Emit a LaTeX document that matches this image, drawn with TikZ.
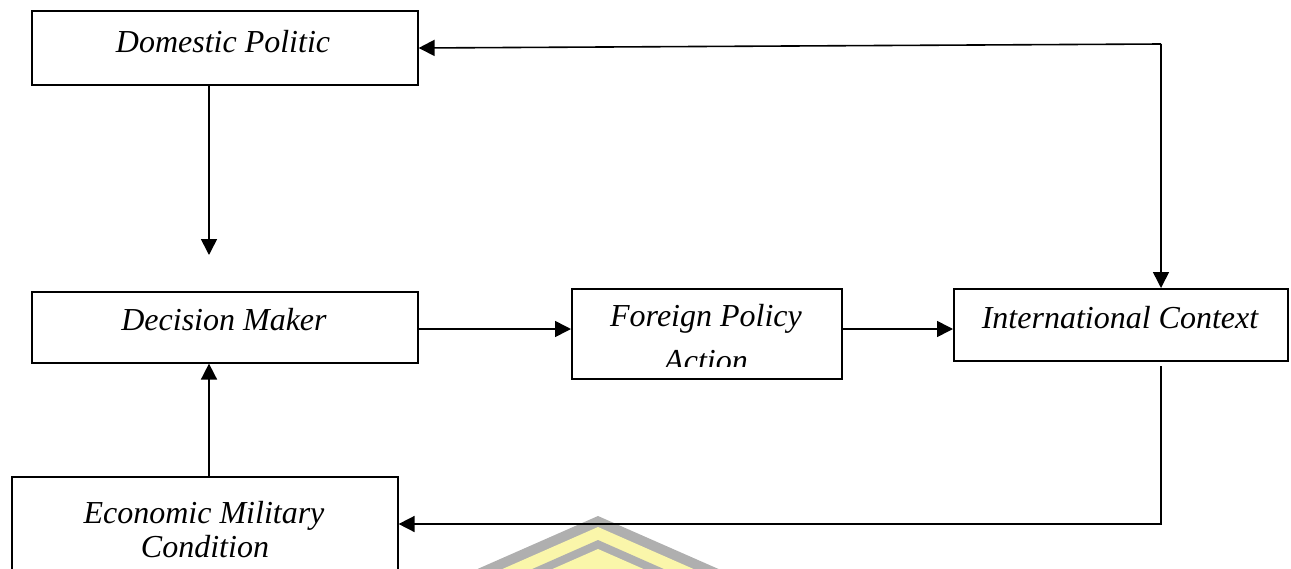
\documentclass[tikz,border=0pt]{standalone}
\usepackage{fontspec}
\setmainfont{Liberation Serif}
\usetikzlibrary{arrows.meta}
\definecolor{wmgray}{RGB}{175,175,175}
\definecolor{wmyellow}{RGB}{250,246,170}
\begin{document}
\begin{tikzpicture}[x=1pt,y=-1pt,
  box/.style={draw=black,line width=1.6pt,inner sep=0pt,anchor=north west},
  lbl/.style={font=\fontsize{32}{38}\selectfont\itshape,inner sep=0pt,anchor=base},
  conn/.style={line width=1.6pt,-{Triangle[length=16pt,width=16pt]}}]
\useasboundingbox (0,0) rectangle (1291,568);
% faint watermark fragment
\begin{scope}
\clip (0,0) rectangle (1291,568);
\fill[wmgray] (598,516) -- (789,600) -- (407,600) -- cycle;
\fill[wmyellow] (598,527) -- (764,600) -- (432,600) -- cycle;
\fill[wmgray] (598,540) -- (734,600) -- (462,600) -- cycle;
\fill[wmyellow] (598,549) -- (714,600) -- (482,600) -- cycle;
\end{scope}
% boxes
\node[box, minimum width=386pt, minimum height=74pt] (dom) at (31,10) {};
\node[box, minimum width=386pt, minimum height=71pt] (dec) at (31,291) {};
\node[box, minimum width=270pt, minimum height=90pt] (for) at (571,288) {};
\node[box, minimum width=334pt, minimum height=72pt] (intl) at (953,288) {};
\node[box, minimum width=386pt, minimum height=120pt] (eco) at (11,476) {};
% texts
\node[lbl] (tdom) at (223,52) {Domestic Politic};
\node[lbl] (tdec) at (224,330) {Decision Maker};
\node[lbl] (tfor1) at (706,326) {Foreign Policy};
\begin{scope}
\clip (572,289) rectangle (840,366);
\node[lbl] (tfor2) at (706,371) {Action};
\end{scope}
\node[lbl] (tint) at (1120,328) {International Context};
\node[lbl] (teco1) at (204,523) {Economic Military};
\node[lbl] (teco2) at (205,557) {Condition};
% connectors
\coordinate (c1) at (209,255);
\coordinate (r1) at (0,329);
\coordinate (tl) at (417,48);
\coordinate (tc) at (1161,44);
\coordinate (bs) at (1161,366);
\coordinate (bc) at (1161,524);
\draw[conn] (dom.south -| c1) -- (c1);
\draw[conn] (eco.north -| c1) -- (dec.south -| c1);
\draw[conn] (dec.east |- r1) -- (for.west |- r1);
\draw[conn] (for.east |- r1) -- (intl.west |- r1);
\draw[conn] (tc) -- (dom.east |- tl);
\draw[conn] (tc) -- (intl.north -| tc);
\draw[conn] (bs) -- (bc) -- (eco.east |- bc);
\end{tikzpicture}
\end{document}
